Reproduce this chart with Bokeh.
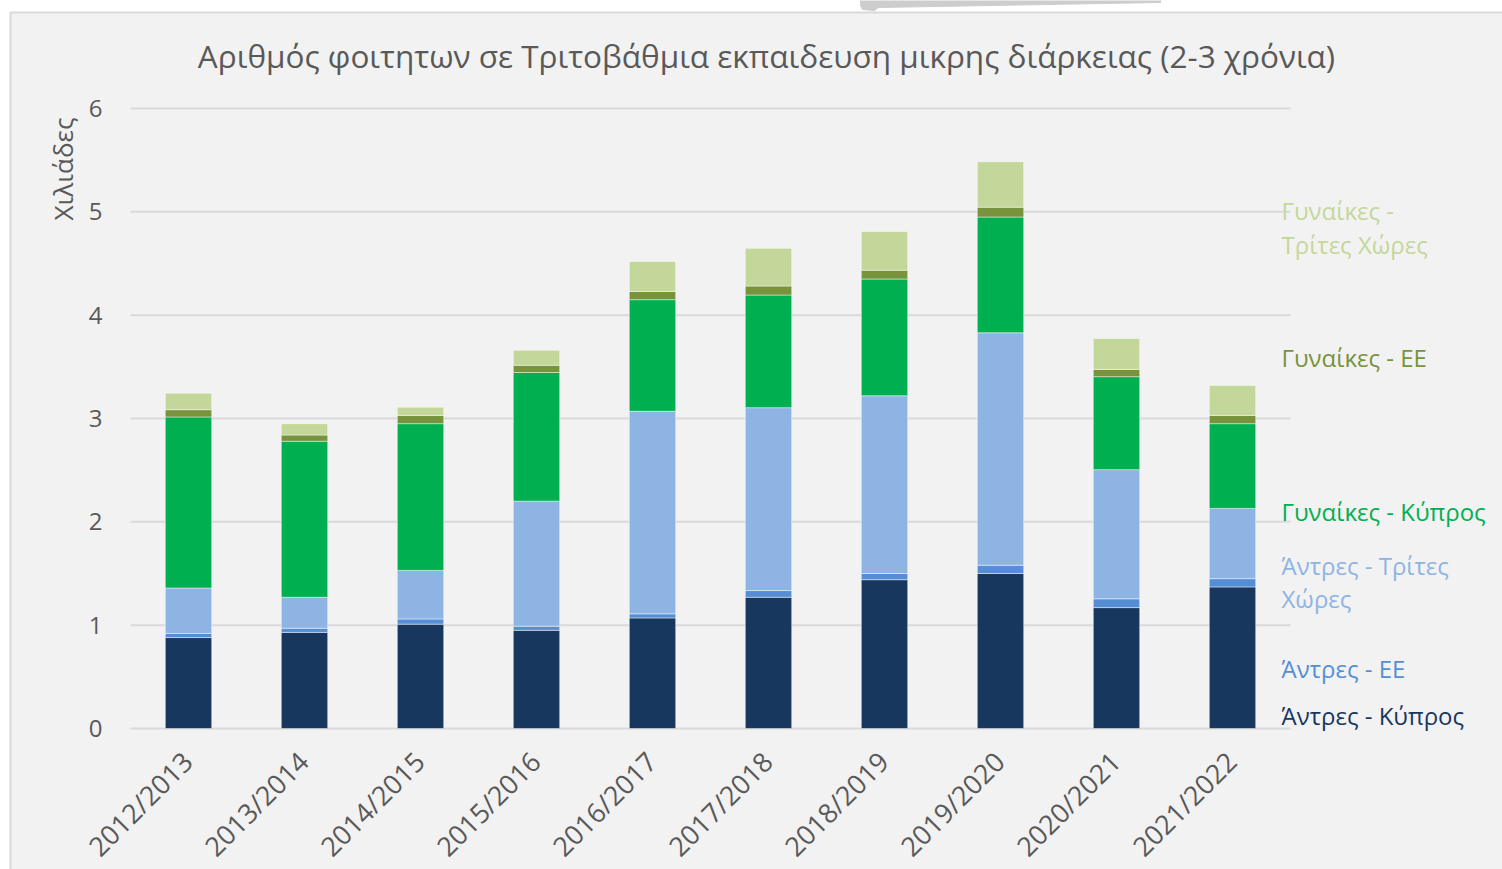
from math import pi
from bokeh.plotting import figure
from bokeh.models import Label, Range1d
from bokeh.core.properties import value
from bokeh.embed import file_html
from bokeh.resources import INLINE

years = ["2012/2013", "2013/2014", "2014/2015", "2015/2016", "2016/2017",
         "2017/2018", "2018/2019", "2019/2020", "2020/2021", "2021/2022"]
men_cy = [0.88, 0.93, 1.01, 0.95, 1.07, 1.27, 1.44, 1.50, 1.17, 1.37]
men_eu = [0.04, 0.04, 0.05, 0.04, 0.04, 0.065, 0.06, 0.08, 0.085, 0.08]
men_tc = [0.44, 0.30, 0.47, 1.21, 1.96, 1.77, 1.72, 2.25, 1.25, 0.68]
women_cy = [1.655, 1.51, 1.42, 1.245, 1.08, 1.09, 1.13, 1.12, 0.90, 0.82]
women_eu = [0.07, 0.06, 0.08, 0.07, 0.08, 0.087, 0.085, 0.095, 0.07, 0.08]
women_tc = [0.16, 0.11, 0.08, 0.145, 0.29, 0.365, 0.375, 0.44, 0.30, 0.29]
y_ticks = [0, 1, 2, 3, 4, 5, 6]
y_tick_labels = ["0", "1", "2", "3", "4", "5", "6"]

series = ["men_cy", "men_eu", "men_tc", "women_cy", "women_eu", "women_tc"]
colors = ["#17375e", "#558ed5", "#8eb4e3", "#00b050", "#77933c", "#c4d79b"]
title_text = "Αριθμός φοιτητων σε Τριτοβάθμια εκπαιδευση μικρης διάρκειας (2-3 χρόνια)"
y_label = "Χιλιάδες"

n = len(years)
xpos = [i + 0.5 for i in range(n)]
data = dict(x=xpos, men_cy=men_cy, men_eu=men_eu, men_tc=men_tc,
            women_cy=women_cy, women_eu=women_eu, women_tc=women_tc)

FONT = "Open Sans"
BG = "#f2f2f2"
TXT = "#595959"
W, H = 1502, 869
PX_X, PX_Y = 116.0, 103.333   # pixels per category / per thousand
X0, Y0 = 130, 728             # pixel position of the plot origin


def dx(px):
    return (px - X0) / PX_X


def dy(py):
    return (Y0 - py) / PX_Y


p = figure(x_range=Range1d(dx(0), dx(W)), y_range=Range1d(dy(H), dy(0)),
           width=W, height=H, output_backend="svg", toolbar_location=None,
           background_fill_color="white", border_fill_color="white",
           min_border=0)
p.outline_line_color = None
p.axis.visible = False
p.grid.visible = False

# chart area background and its border
p.quad(left=dx(10), right=dx(W + 5), top=dy(12), bottom=dy(H + 5),
       fill_color=BG, line_color="#d9d9d9", line_width=2)
# grey shape at the top edge of the picture
p.patch(x=[dx(860), dx(1160), dx(1160), dx(878), dx(874), dx(862), dx(860)],
        y=[dy(-2), dy(-2), dy(2), dy(7), dy(10), dy(9), dy(5)],
        fill_color="#cdcdcd", line_color="#cdcdcd", line_width=1)

# gridlines across the category area
p.segment(x0=[0] * len(y_ticks), x1=[n] * len(y_ticks), y0=y_ticks, y1=y_ticks,
          line_color="#d9d9d9", line_width=2)

p.vbar_stack(series, x="x", width=0.4, color=colors, source=data,
             line_color="white", line_alpha=0.45, line_width=1)

# y tick labels
p.text(x=[dx(102)] * len(y_ticks), y=y_ticks, text=y_tick_labels,
       text_align="right", text_baseline="middle", text_font=value(FONT),
       text_font_size="24px", text_color=TXT)

# x tick labels (rotated 45 degrees)
p.text(x=[v - 0.01 for v in xpos], y=[dy(756)] * n, text=years, angle=pi / 4,
       text_align="right", text_baseline="middle", text_font=value(FONT),
       text_font_size="27px", text_color=TXT)

# y axis title
p.add_layout(Label(x=dx(62), y=dy(117), text=y_label, angle=pi / 2,
                   text_align="right", text_baseline="middle",
                   text_font=FONT, text_font_size="26px", text_color=TXT))

# chart title
p.add_layout(Label(x=dx(766), y=dy(55), text=title_text, text_align="center",
                   text_baseline="middle", text_font=FONT,
                   text_font_size="31.5px", text_color=TXT))

# series labels on the right
label_specs = [
    (["Γυναίκες -", "Τρίτες Χώρες"], [210, 244], colors[5]),
    (["Γυναίκες - ΕΕ"], [357], colors[4]),
    (["Γυναίκες - Κύπρος"], [511], colors[3]),
    (["Άντρες - Τρίτες", "Χώρες"], [565, 598], colors[2]),
    (["Άντρες - ΕΕ"], [668], colors[1]),
    (["Άντρες - Κύπρος"], [715], colors[0]),
]
for lines, ys, c in label_specs:
    for t, yy in zip(lines, ys):
        p.add_layout(Label(x=dx(1281), y=dy(yy), text=t, text_align="left",
                           text_baseline="middle", text_font=FONT,
                           text_font_size="24px", text_color=c))

open("out.html", "w").write(file_html(p, INLINE))
